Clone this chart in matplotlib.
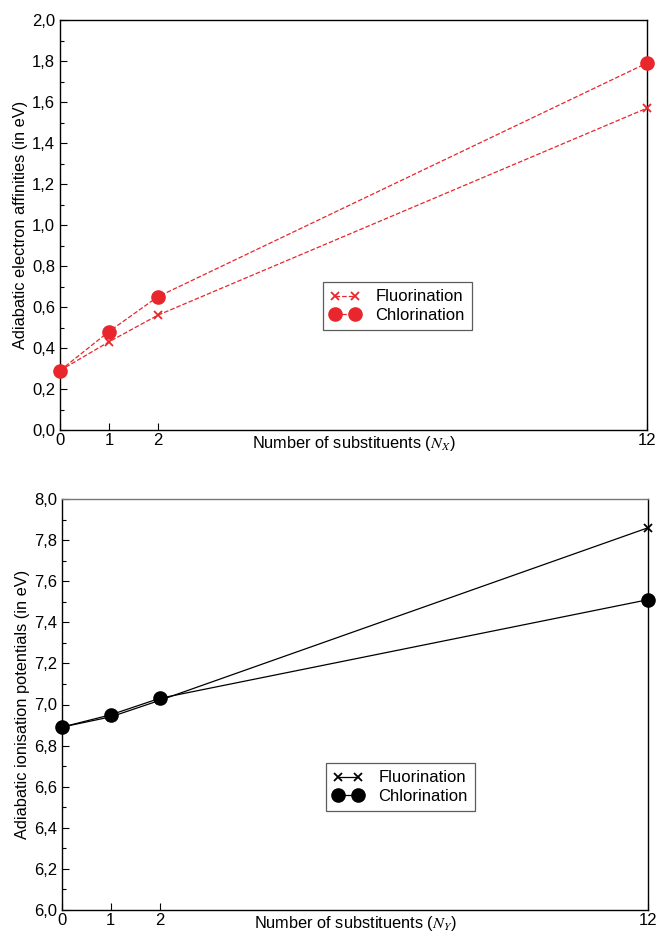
import matplotlib.pyplot as plt
from matplotlib.ticker import FuncFormatter, MultipleLocator

# data
n_subst = [0, 1, 2, 12]
ea_fluor = [0.29, 0.43, 0.56, 1.57]
ea_chlor = [0.29, 0.48, 0.65, 1.79]
ip_fluor = [6.89, 6.94, 7.02, 7.86]
ip_chlor = [6.89, 6.95, 7.03, 7.51]

plt.rcParams['font.family'] = ['Liberation Sans', 'DejaVu Sans']
plt.rcParams['font.size'] = 11
plt.rcParams['mathtext.fontset'] = 'stix'

red = '#e8262b'
comma = FuncFormatter(lambda v, p: f'{v:.1f}'.replace('.', ','))


def style_axes(ax, ylo, yhi, ylabel, sub):
    ax.set_xlim(0, 12)
    ax.set_ylim(ylo, yhi)
    ax.set_xticks(n_subst)
    ax.yaxis.set_major_locator(MultipleLocator(0.2))
    ax.yaxis.set_minor_locator(MultipleLocator(0.1))
    ax.yaxis.set_major_formatter(comma)
    ax.tick_params(direction='in', which='major', length=5, width=0.8, labelsize=12)
    ax.tick_params(direction='in', which='minor', length=3, width=0.8)
    ax.tick_params(axis='x', pad=2)
    for s in ax.spines.values():
        s.set_linewidth(1.0)
    ax.set_ylabel(ylabel, fontsize=11.8, labelpad=3)
    ax.set_xlabel('Number of substituents ($N_{%s}$)' % sub, fontsize=11.8)
    ax.xaxis.set_label_coords(0.5, -0.01, transform=ax.transAxes)
    ax.xaxis.label.set_va('top')


def add_legend(ax, anchor):
    leg = ax.legend(loc='upper left', bbox_to_anchor=anchor, frameon=True, fancybox=False,
                    edgecolor='#333333', numpoints=2, handlelength=1.8, borderpad=0.45,
                    labelspacing=0.2, handletextpad=0.9, borderaxespad=0, fontsize=12)
    leg.get_frame().set_linewidth(0.9)


fig = plt.figure(figsize=(6.57, 9.35), dpi=100)
ax1 = fig.add_axes([60 / 657, 1 - 430 / 935, 587 / 657, 410 / 935])
ax2 = fig.add_axes([62 / 657, 1 - 910 / 935, 586 / 657, 411 / 935])

ax1.plot(n_subst, ea_fluor, ls='--', lw=0.9, color=red, marker='x', ms=6, mew=1.3,
         label='Fluorination', clip_on=False, zorder=3)
ax1.plot(n_subst, ea_chlor, ls='--', lw=0.9, color=red, marker='o', ms=9.5,
         label='Chlorination', clip_on=False, zorder=3)
style_axes(ax1, 0, 2.0, 'Adiabatic electron affinities (in eV)', 'X')
add_legend(ax1, (0.448, 0.361))

ax2.plot(n_subst, ip_fluor, ls='-', lw=0.9, color='black', marker='x', ms=6, mew=1.3,
         label='Fluorination', clip_on=False, zorder=3)
ax2.plot(n_subst, ip_chlor, ls='-', lw=0.9, color='black', marker='o', ms=9.5,
         label='Chlorination', clip_on=False, zorder=3)
style_axes(ax2, 6.0, 8.0, 'Adiabatic ionisation potentials (in eV)', 'Y')
ax2.spines['top'].set_color('#777777')
add_legend(ax2, (0.45, 0.358))

fig.savefig('out.png', dpi=100)
